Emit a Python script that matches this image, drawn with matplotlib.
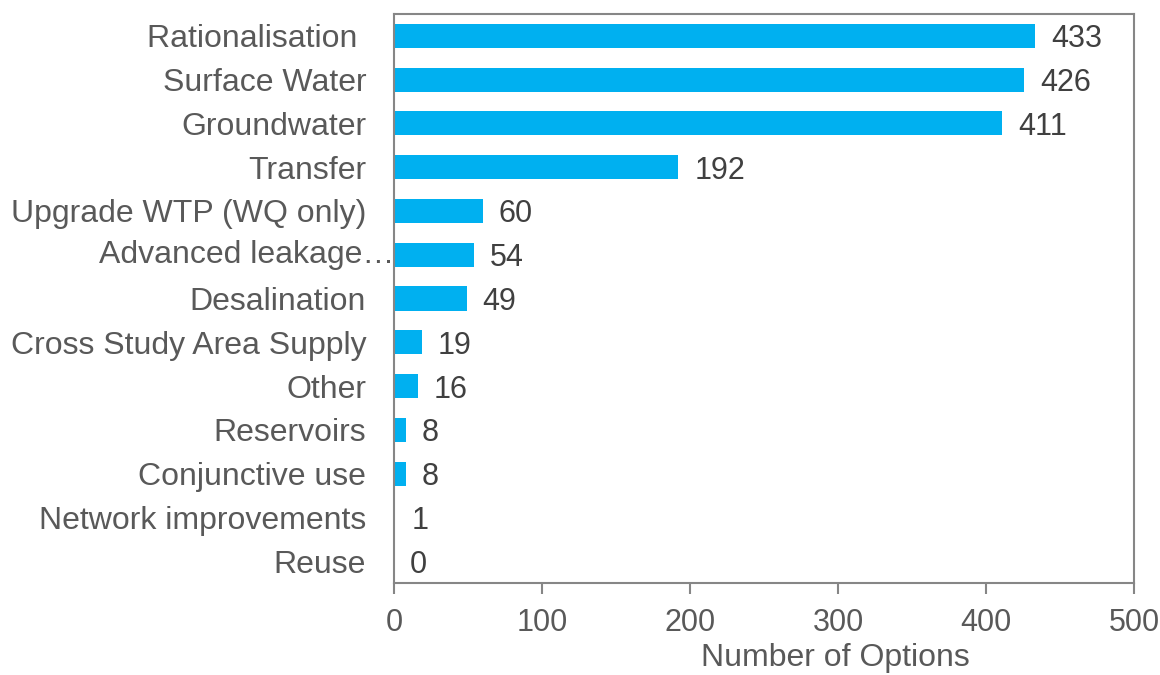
import matplotlib
matplotlib.use("Agg")
import matplotlib.pyplot as plt

categories = ["Rationalisation ", "Surface Water", "Groundwater", "Transfer",
              "Upgrade WTP (WQ only)", "Advanced leakage…", "Desalination",
              "Cross Study Area Supply", "Other", "Reservoirs", "Conjunctive use",
              "Network improvements", "Reuse"]
values = [433, 426, 411, 192, 60, 54, 49, 19, 16, 8, 8, 1, 0]
xticks = [0, 100, 200, 300, 400, 500]

plt.rcParams['font.family'] = ['Liberation Sans', 'DejaVu Sans']
fig = plt.figure(figsize=(11.6, 6.75), dpi=100)
ax = fig.add_axes([394/1160, 1-583/675, 740/1160, 569/675])

n = len(categories)
ypos = list(range(n))
ax.barh(ypos, values, height=0.55, color="#00B0F0")
ax.set_ylim(n - 0.5, -0.5)
ax.set_xlim(0, 500)

txtcol = "#595959"
labcol = "#404040"
ax.set_yticks(ypos)
ylabels = [c if not c.startswith("Advanced") else "" for c in categories]
ax.set_yticklabels(ylabels, fontsize=23, color=txtcol)
ax.tick_params(axis='y', length=0, pad=20)
idx = categories.index("Advanced leakage…")
ax.text(0, idx, "Advanced leakage…", ha='right', va='center', fontsize=23,
        color=txtcol, transform=ax.get_yaxis_transform())

ax.set_xticks(xticks)
ax.set_xticklabels([str(t) for t in xticks], fontsize=22, color=txtcol)
ax.tick_params(axis='x', length=8, width=1.5, color="#868686", direction='out', pad=10)

for s in ax.spines.values():
    s.set_color("#868686")
    s.set_linewidth(1.5)

for y, v in zip(ypos, values):
    ax.annotate(str(v), xy=(v, y), xytext=(11.5, 0), textcoords='offset points',
                ha='left', va='center_baseline', fontsize=22, color=labcol)

ax.set_xlabel("Number of Options", fontsize=23, color=txtcol)
ax.xaxis.set_label_coords(0.597, -0.105)

fig.savefig("out.png", dpi=100)
